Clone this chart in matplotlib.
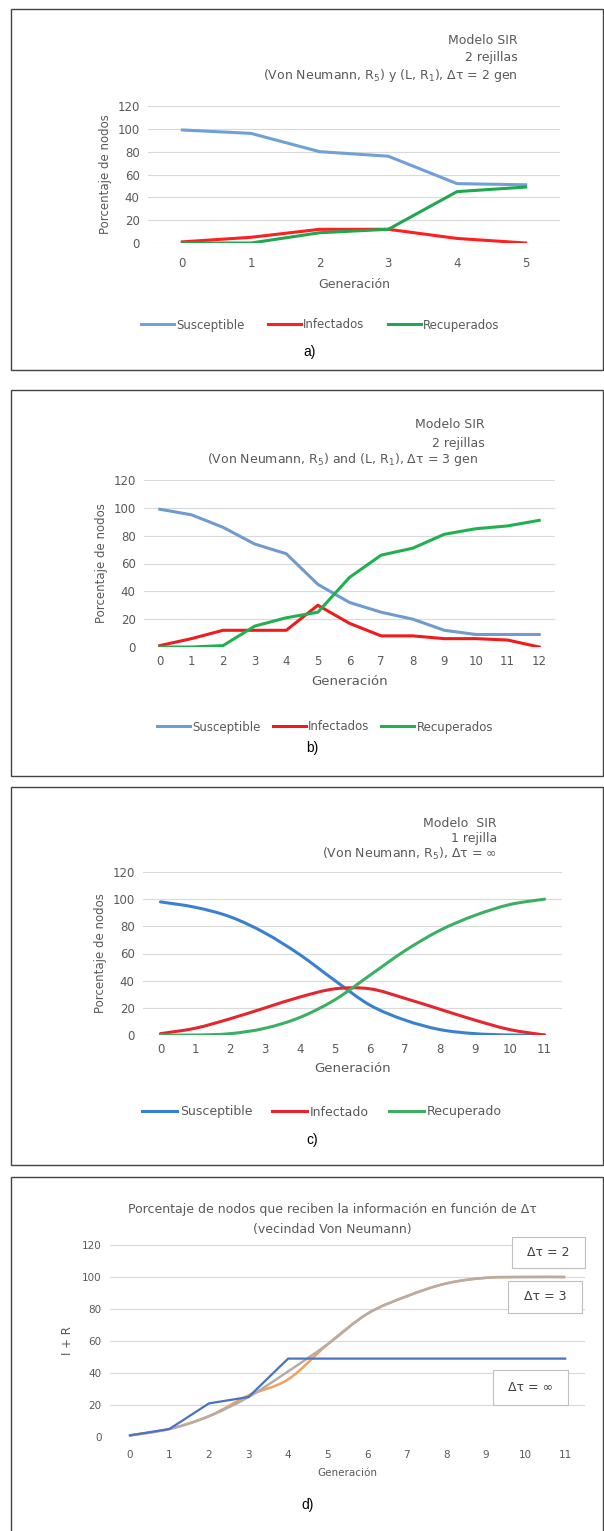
import numpy as np
import matplotlib
matplotlib.use('Agg')
import matplotlib.pyplot as plt
from matplotlib.path import Path
from matplotlib.patches import PathPatch, Rectangle
from matplotlib.lines import Line2D

plt.rcParams['font.family'] = ['DejaVu Sans']

W, H = 604, 1531
GREY = '#595959'

# ---- data ----
gen_a = [0, 1, 2, 3, 4, 5]
sus_a = [99, 96, 80, 76, 52, 51]
inf_a = [1, 5, 12, 12, 4, 0]
rec_a = [0, 0, 9, 12, 45, 49]

gen_b = list(range(13))
sus_b = [99, 95, 86, 74, 67, 45, 32, 25, 20, 12, 9, 9, 9]
inf_b = [1, 6, 12, 12, 12, 30, 17, 8, 8, 6, 6, 5, 0]
rec_b = [0, 0, 1, 15, 21, 25, 50, 66, 71, 81, 85, 87, 91]

gen_c = list(range(12))
sus_c = [98, 94, 87, 75, 59, 40, 22, 11, 4, 1, 0, 0]
inf_c = [1, 5, 12, 20, 28, 34, 34, 27, 19, 11, 4, 0]
rec_c = [0, 0, 1, 5, 13, 26, 44, 62, 77, 88, 96, 100]

gen_d = list(range(12))
ir_dt2 = [1, 5, 21, 25, 49, 49, 49, 49, 49, 49, 49, 49]
ir_dt3 = [1, 5, 13, 26, 36, 58, 77, 88, 96, 99.5, 100, 100]
ir_inf = [1, 5, 13, 25, 41, 58, 77, 88, 96, 99.5, 100, 100]

yticks = [0, 20, 40, 60, 80, 100, 120]


def px_axes(fig, left, top, right, bottom):
    return fig.add_axes([left / W, 1 - bottom / H, (right - left) / W, (bottom - top) / H])


def ftext(fig, x, y, s, **kw):
    kw.setdefault('color', GREY)
    fig.text(x / W, 1 - y / H, s, **kw)


def frame(fig, left, top, right, bottom):
    fig.add_artist(Rectangle((left / W, 1 - bottom / H), (right - left) / W, (bottom - top) / H,
                             transform=fig.transFigure, fill=False, edgecolor='#444444', lw=1.0))


def smooth_path(x, y):
    # Excel style smoothed line: cubic bezier through the data points
    pts = np.column_stack([x, y]).astype(float)
    ext = np.vstack([pts[0], pts, pts[-1]])
    verts = [pts[0]]
    codes = [Path.MOVETO]
    for i in range(len(pts) - 1):
        p0, p1, p2, p3 = ext[i], ext[i + 1], ext[i + 2], ext[i + 3]
        verts += [p1 + (p2 - p0) / 6, p2 - (p3 - p1) / 6, p2]
        codes += [Path.CURVE4] * 3
    return Path(verts, codes)


def style_axes(ax, cats, tick_fs=8.5):
    ax.set_xlim(-0.5, len(cats) - 0.5)
    ax.set_ylim(0, 120)
    ax.set_yticks(yticks)
    ax.set_xticks(cats)
    ax.tick_params(length=0, labelsize=tick_fs, colors=GREY, pad=6)
    ax.yaxis.grid(True, color='#d9d9d9', lw=0.8)
    ax.set_axisbelow(True)
    for s in ax.spines.values():
        s.set_visible(False)


fig = plt.figure(figsize=(W / 100, H / 100), dpi=100)

# ---------------- a) ----------------
frame(fig, 11, 9, 603, 370)
ax = px_axes(fig, 148, 106, 560, 243)
style_axes(ax, gen_a)
ax.tick_params(axis='x', pad=10)
ax.plot(gen_a, sus_a, color='#6fa0d8', lw=2.2)
ax.plot(gen_a, inf_a, color='#ff1f1f', lw=2.2)
ax.plot(gen_a, rec_a, color='#1fa84f', lw=2.2)
ax.set_ylabel('Porcentaje de nodos', fontsize=8.5, color=GREY, labelpad=4)
ax.set_xlabel('Generación', fontsize=9, color=GREY, labelpad=6)
ftext(fig, 518, 40, 'Modelo SIR', fontsize=9, ha='right', va='center')
ftext(fig, 518, 57, '2 rejillas', fontsize=9, ha='right', va='center')
ftext(fig, 518, 75, '(Von Neumann, R$_5$) y (L, R$_1$), Δτ = 2 gen', fontsize=9, ha='right', va='center')
ax.legend(handles=[Line2D([], [], color='#6fa0d8', lw=2.2, label='Susceptible'),
                   Line2D([], [], color='#ff1f1f', lw=2.2, label='Infectados'),
                   Line2D([], [], color='#1fa84f', lw=2.2, label='Recuperados')],
          loc='center', bbox_to_anchor=(320 / W, 1 - 325 / H), bbox_transform=fig.transFigure,
          ncol=3, frameon=False, fontsize=8.5, labelcolor=GREY, handlelength=2.8,
          handletextpad=0.15, columnspacing=2.0)
ftext(fig, 310, 352, 'a)', fontsize=10, family='Liberation Sans', color='black', ha='center', va='center')

# ---------------- b) ----------------
frame(fig, 11, 390, 603, 776)
ax = px_axes(fig, 144, 480, 555, 647)
style_axes(ax, gen_b)
ax.plot(gen_b, sus_b, color='#6f9bd0', lw=2.2)
ax.plot(gen_b, inf_b, color='#ee1c1c', lw=2.2)
ax.plot(gen_b, rec_b, color='#20b050', lw=2.2)
ax.set_ylabel('Porcentaje de nodos', fontsize=8.5, color=GREY, labelpad=4)
ax.set_xlabel('Generación', fontsize=9.5, color=GREY, labelpad=5)
ftext(fig, 485, 425, 'Modelo SIR', fontsize=9, ha='right', va='center')
ftext(fig, 485, 443, '2 rejillas', fontsize=9, ha='right', va='center')
ftext(fig, 478, 460, '(Von Neumann, R$_5$) and (L, R$_1$), Δτ = 3 gen', fontsize=9, ha='right', va='center')
ax.legend(handles=[Line2D([], [], color='#6f9bd0', lw=2.2, label='Susceptible'),
                   Line2D([], [], color='#ee1c1c', lw=2.2, label='Infectados'),
                   Line2D([], [], color='#20b050', lw=2.2, label='Recuperados')],
          loc='center', bbox_to_anchor=(325 / W, 1 - 727 / H), bbox_transform=fig.transFigure,
          ncol=3, frameon=False, fontsize=8.5, labelcolor=GREY, handlelength=2.8,
          handletextpad=0.2, columnspacing=1.0)
ftext(fig, 312, 748, 'b)', fontsize=10, family='Liberation Sans', color='black', ha='center', va='center')

# ---------------- c) ----------------
frame(fig, 11, 787, 603, 1165)
ax = px_axes(fig, 143, 872, 562, 1035)
style_axes(ax, gen_c)
for vals, col in [(sus_c, '#3a80d2'), (inf_c, '#e6262e'), (rec_c, '#3cb062')]:
    ax.add_patch(PathPatch(smooth_path(gen_c, vals), fill=False, edgecolor=col, lw=2.2,
                           capstyle='round', joinstyle='round'))
ax.set_ylabel('Porcentaje de nodos', fontsize=8.5, color=GREY, labelpad=4)
ax.set_xlabel('Generación', fontsize=9.5, color=GREY, labelpad=4)
ftext(fig, 497, 823, 'Modelo  SIR', fontsize=9, ha='right', va='center')
ftext(fig, 497, 838, '1 rejilla', fontsize=9, ha='right', va='center')
ftext(fig, 497, 854, '(Von Neumann, R$_5$), Δτ = ∞', fontsize=9, ha='right', va='center')
ax.legend(handles=[Line2D([], [], color='#3a80d2', lw=2.2, label='Susceptible'),
                   Line2D([], [], color='#e6262e', lw=2.2, label='Infectado'),
                   Line2D([], [], color='#3cb062', lw=2.2, label='Recuperado')],
          loc='center', bbox_to_anchor=(322 / W, 1 - 1112 / H), bbox_transform=fig.transFigure,
          ncol=3, frameon=False, fontsize=9, labelcolor=GREY, handlelength=2.8,
          handletextpad=0.2, columnspacing=1.6)
ftext(fig, 312, 1140, 'c)', fontsize=10, family='Liberation Sans', color='black', ha='center', va='center')

# ---------------- d) ----------------
frame(fig, 11, 1177, 603, 1545)
ax = px_axes(fig, 110, 1245, 585, 1437)
style_axes(ax, gen_d, tick_fs=7.5)
ax.tick_params(axis='x', pad=9)
ax.plot(gen_d, ir_dt2, color='#4a72c4', lw=1.6, zorder=3)
ax.add_patch(PathPatch(smooth_path(gen_d, ir_dt3), fill=False, edgecolor='#f0a060', lw=1.8, zorder=2))
ax.add_patch(PathPatch(smooth_path(gen_d, ir_inf), fill=False, edgecolor='#b7aca6', lw=1.8, zorder=2.5))
ax.set_ylabel('I + R', fontsize=8.5, color=GREY, labelpad=6)
ax.set_xlabel('Generación', fontsize=7.5, color=GREY, labelpad=6)
ftext(fig, 332, 1210, 'Porcentaje de nodos que reciben la información en función de Δτ',
      fontsize=9, ha='center', va='center')
ftext(fig, 332, 1229, '(vecindad Von Neumann)', fontsize=9, ha='center', va='center')
for x0, y0, x1, y1, s in [(512, 1237, 585, 1268, 'Δτ = 2'),
                          (508, 1281, 582, 1313, 'Δτ = 3'),
                          (493, 1370, 568, 1405, 'Δτ = ∞')]:
    fig.add_artist(Rectangle((x0 / W, 1 - y1 / H), (x1 - x0) / W, (y1 - y0) / H,
                             transform=fig.transFigure, facecolor='white',
                             edgecolor='#bfbfbf', lw=0.8, zorder=5))
    ftext(fig, (x0 + x1) / 2, (y0 + y1) / 2, s, fontsize=9, color='#404040',
          ha='center', va='center', zorder=6)
ftext(fig, 308, 1505, 'd)', fontsize=10, family='Liberation Sans', color='black', ha='center', va='center')

fig.savefig('out.png', dpi=100)
